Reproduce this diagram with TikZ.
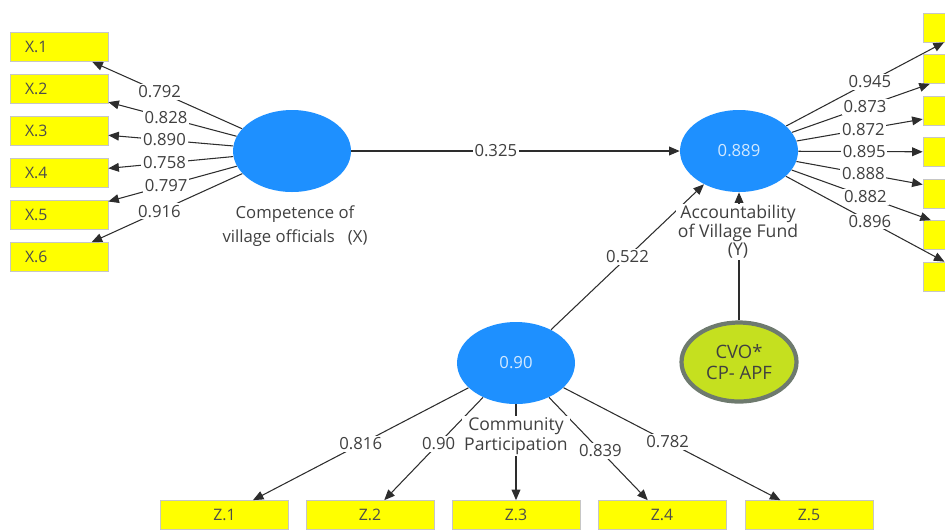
\documentclass[tikz,border=0pt]{standalone}
\usepackage{fontspec}
\setmainfont{Open Sans}
\usetikzlibrary{shapes.geometric,arrows.meta}
\definecolor{latblue}{RGB}{30,144,255}
\definecolor{indyellow}{RGB}{255,255,0}
\definecolor{cvogreen}{RGB}{197,224,31}
\definecolor{cvoedge}{RGB}{110,122,110}
\definecolor{linegray}{RGB}{45,45,45}

\begin{document}
\begin{tikzpicture}[x=0.02cm,y=-0.02cm,
latent/.style={ellipse,fill=latblue,minimum width=2.36cm,minimum height=1.64cm,text=white!80!latblue,font=\fontsize{9.5}{11}\selectfont},
cvo/.style={ellipse,fill=cvogreen,draw=cvoedge,line width=2.4pt,minimum width=2.3cm,minimum height=1.58cm,align=center,text=black!75,font=\fontsize{10.5}{12}\selectfont},
ind/.style={rectangle,fill=indyellow,draw=gray!45,minimum height=0.58cm,text=black!70,font=\fontsize{9}{10}\selectfont},
xind/.style={ind,text width=1.36cm,inner xsep=0.3cm,align=left},
yind/.style={ind,minimum width=1.96cm},
zind/.style={ind,minimum width=2.56cm},
wt/.style={fill=white,inner sep=1pt,text=black!75,font=\fontsize{9.5}{11}\selectfont},
lbl/.style={align=center,text=black!75,inner sep=1pt},
lnk/.style={draw=linegray,line width=0.6pt,-{Triangle[length=6pt,width=5pt]}}]

\newcommand{\loadline}[4]
{
\draw[lnk] (#1) -- node[wt,pos=#4]{#3} (#2);
}

\clip (0,0) rectangle (945,529);

\node[latent] (X) at (292,151) {};
\node[latent] (Y) at (739,151) {0.889};
\node[latent] (Z) at (516,363) {0.90};
\node[cvo] (C) at (739,362) {CVO*\\CP- APF};

\node[xind] (x1) at (59,47) {X.1};
\node[xind] (x2) at (59,89) {X.2};
\node[xind] (x3) at (59,131) {X.3};
\node[xind] (x4) at (59,173) {X.4};
\node[xind] (x5) at (59,215) {X.5};
\node[xind] (x6) at (59,257) {X.6};

\node[yind] (y1) at (972,27.5) {};
\node[yind] (y2) at (972,69) {};
\node[yind] (y3) at (972,110.5) {};
\node[yind] (y4) at (972,152) {};
\node[yind] (y5) at (972,193.5) {};
\node[yind] (y6) at (972,235) {};
\node[yind] (y7) at (972,276.5) {};

\node[zind] (z1) at (224.5,515) {Z.1};
\node[zind] (z2) at (370,515) {Z.2};
\node[zind] (z3) at (516,515) {Z.3};
\node[zind] (z4) at (662,515) {Z.4};
\node[zind] (z5) at (809,515) {Z.5};

\loadline{X}{x1}{0.792}{0.55}
\loadline{X}{x2}{0.828}{0.55}
\loadline{X}{x3}{0.890}{0.55}
\loadline{X}{x4}{0.758}{0.55}
\loadline{X}{x5}{0.797}{0.55}
\loadline{X}{x6}{0.916}{0.55}

\loadline{X}{Y}{0.325}{0.44}

\loadline{Y}{y1}{0.945}{0.53}
\loadline{Y}{y2}{0.873}{0.53}
\loadline{Y}{y3}{0.872}{0.53}
\loadline{Y}{y4}{0.895}{0.53}
\loadline{Y}{y5}{0.888}{0.53}
\loadline{Y}{y6}{0.882}{0.53}
\loadline{Y}{y7}{0.896}{0.53}

\loadline{Z}{Y}{0.522}{0.5}

\loadline{Z}{z1}{0.816}{0.5}
\loadline{Z}{z2}{0.90}{0.45}
\draw[lnk] (Z) -- (z3);
\loadline{Z}{z4}{0.839}{0.52}
\loadline{Z}{z5}{0.782}{0.48}

\draw[lnk] (C) -- (Y);

\node[lbl,font=\fontsize{9.5}{13.5}\selectfont] (Xlab) at (295,226) {Competence of\\village officials~~~(X)};
\node[lbl,fill=white,font=\fontsize{10}{10.5}\selectfont] (Ylab) at (738,232) {Accountability\\of Village Fund\\(Y)};
\node[lbl,fill=white,font=\fontsize{10}{11}\selectfont] (Zlab) at (516,436) {Community\\Participation};

\end{tikzpicture}
\end{document}
